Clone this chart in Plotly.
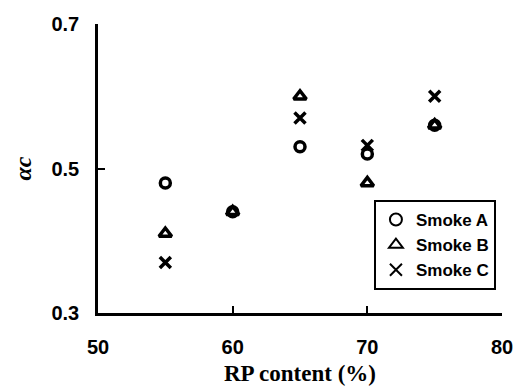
import plotly.graph_objects as go

rp = [55, 60, 65, 70, 75]
smoke_a = [0.48, 0.44, 0.53, 0.52, 0.56]
smoke_b = [0.41, 0.44, 0.60, 0.48, 0.56]
smoke_c = [0.37, None, 0.57, 0.532, 0.60]
names = ["Smoke A", "Smoke B", "Smoke C"]
x_ticks = [50, 60, 70, 80]
y_ticks = [0.3, 0.5, 0.7]

fig = go.Figure()
symbols = ["circle-open", "triangle-up-open", "x-thin-open"]
sizes = [10, 11, 11]
for name, vals, sym, sz in zip(names, [smoke_a, smoke_b, smoke_c], symbols, sizes):
    fig.add_trace(go.Scatter(
        x=rp, y=vals, mode="markers", name=name,
        marker=dict(symbol=sym, size=sz, color="black", line=dict(width=3.5, color="black")),
    ))

fig.update_layout(
    width=514, height=389,
    margin=dict(l=98, r=12, t=24, b=76),
    paper_bgcolor="white", plot_bgcolor="white",
    showlegend=True,
    legend=dict(
        x=0.683, y=0.391, xanchor="left", yanchor="top",
        bordercolor="black", borderwidth=2, bgcolor="white",
        font=dict(family="Liberation Sans", size=17, color="black", weight="bold"),
        itemwidth=30, tracegroupgap=0, itemsizing="constant",
    ),
    font=dict(family="Liberation Sans", color="black"),
)
fig.update_xaxes(
    range=[50, 80], tickvals=x_ticks, ticktext=[str(v) for v in x_ticks],
    showline=True, linecolor="black", linewidth=2.5, mirror=False,
    ticks="inside", ticklen=7, tickwidth=2, tickcolor="black",
    showgrid=False, zeroline=False, automargin=False,
    tickfont=dict(family="Liberation Sans", size=20, color="black", weight="bold"),
    ticklabelstandoff=14,
    title=dict(text="RP content (%)", font=dict(family="Liberation Serif", size=23, color="black", weight="bold"), standoff=9),
)
fig.update_yaxes(
    range=[0.3, 0.7], tickvals=y_ticks, ticktext=["0.3", "0.5", "0.7"],
    showline=True, linecolor="black", linewidth=2.5, mirror=False,
    ticks="inside", ticklen=7, tickwidth=2, tickcolor="black",
    showgrid=False, zeroline=False, automargin=False,
    tickfont=dict(family="Liberation Sans", size=20, color="black", weight="bold"),
    ticklabelstandoff=12,
    title=dict(text="<i>αc</i>", font=dict(family="Liberation Serif", size=24, color="black", weight="bold"), standoff=14),
)
fig.write_html("out.html")
